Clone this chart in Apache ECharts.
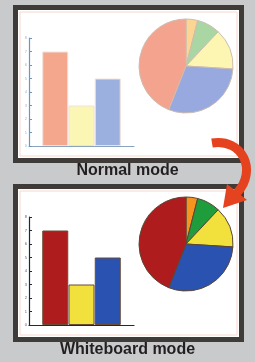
<!DOCTYPE html>
<html>
<head>
<meta charset="utf-8">
<style>
  html, body { margin: 0; padding: 0; background: #c8cacb; }
  #chart { width: 255px; height: 362px; }
</style>
<script src="https://cdn.jsdelivr.net/npm/echarts@6/dist/echarts.min.js"></script>
</head>
<body>
<div id="chart"></div>
<script>
// data
const categories = ["A", "B", "C"];
const barValues = [7, 3, 5];
const yMin = 0;
const yMax = 8;
const pieNames = ["Orange", "Green", "Yellow", "Blue", "Red"];
const pieValues = [4, 8, 14, 30, 44];
const panelTitles = ["Normal mode", "Whiteboard mode"];

// colours per mode
const normalBarColors = ["#f5a78e", "#fbf6b4", "#9cb0e0"];
const normalPieColors = ["#fbd591", "#a9d6a2", "#fdf6b3", "#97a9de", "#f4a48e"];
const boardBarColors = ["#ae1c1e", "#f2e13c", "#2a52b0"];
const boardPieColors = ["#f7941f", "#1f9c3c", "#f2e13c", "#2a52b0", "#ae1c1e"];

const chart = echarts.init(document.getElementById("chart"));

function frame(y) {
  return [
    { type: "rect", z: -10, shape: { x: 13, y: y, width: 231, height: 158 }, style: { fill: "#3f3b39" } },
    { type: "rect", z: -9, shape: { x: 18, y: y + 5, width: 221, height: 148 }, style: { fill: "#ffffff" } },
    { type: "rect", z: -8, shape: { x: 20, y: y + 7, width: 217, height: 144 }, style: { fill: null, stroke: "#f7d8ce", lineWidth: 1 } },
  ];
}

function yAxis(gridIndex, lineColor, labelColor) {
  return {
    type: "value",
    gridIndex,
    min: yMin,
    max: yMax,
    interval: 1,
    axisLine: { show: true, lineStyle: { color: lineColor, width: 1.2 } },
    axisTick: { show: true, inside: true, length: 3, lineStyle: { color: lineColor } },
    axisLabel: { fontSize: 4, color: labelColor, margin: 2 },
    splitLine: { show: false },
  };
}

function xAxis(gridIndex, lineColor) {
  return {
    type: "category",
    gridIndex,
    data: categories,
    boundaryGap: false,
    min: -1,
    max: 3,
    axisLine: { show: true, lineStyle: { color: lineColor, width: 1.2 } },
    axisTick: { show: false },
    axisLabel: { show: false },
  };
}

chart.setOption({
  backgroundColor: "#c8cacb",
  animation: false,
  grid: [
    { left: 29, top: 38, width: 105, height: 108 },
    { left: 29, top: 217, width: 105, height: 108 },
  ],
  xAxis: [xAxis(0, "#8aa3c0"), xAxis(1, "#1e2836")],
  yAxis: [yAxis(0, "#6b96c2", "#9fb4cc"), yAxis(1, "#1e2836", "#55606c")],
  series: [
    {
      type: "bar",
      xAxisIndex: 0,
      yAxisIndex: 0,
      barWidth: 26,
      data: barValues.map((v, i) => ({
        value: v,
        itemStyle: { color: normalBarColors[i], borderColor: "#f0e2da", borderWidth: 1 },
      })),
    },
    {
      type: "bar",
      xAxisIndex: 1,
      yAxisIndex: 1,
      barWidth: 26,
      data: barValues.map((v, i) => ({
        value: v,
        itemStyle: { color: boardBarColors[i], borderColor: "#6a4b36", borderWidth: 1 },
      })),
    },
    {
      type: "pie",
      center: [186, 66],
      radius: 47,
      startAngle: 90,
      clockwise: true,
      label: { show: false },
      labelLine: { show: false },
      itemStyle: { borderColor: "#cdbdb0", borderWidth: 1 },
      data: pieNames.map((n, i) => ({ name: n, value: pieValues[i], itemStyle: { color: normalPieColors[i] } })),
    },
    {
      type: "pie",
      center: [186, 244],
      radius: 47,
      startAngle: 90,
      clockwise: true,
      label: { show: false },
      labelLine: { show: false },
      itemStyle: { borderColor: "#5a4636", borderWidth: 1 },
      data: pieNames.map((n, i) => ({ name: n, value: pieValues[i], itemStyle: { color: boardPieColors[i] } })),
    },
  ],
  graphic: [
    ...frame(5),
    ...frame(184),
    {
      type: "text",
      left: "center",
      top: 163,
      style: { text: panelTitles[0], font: "bold 16px 'Liberation Sans', Arial", fill: "#231f20" },
    },
    {
      type: "text",
      left: "center",
      top: 342,
      style: { text: panelTitles[1], font: "bold 16px 'Liberation Sans', Arial", fill: "#231f20" },
    },
    // red curved arrow between the panels
    {
      type: "bezierCurve",
      z: 100,
      shape: { x1: 212, y1: 143, cpx1: 242, cpy1: 138, cpx2: 258, cpy2: 170, x2: 237, y2: 193 },
      style: { stroke: "#e5421f", lineWidth: 9, fill: null, lineCap: "butt" },
    },
    {
      type: "polygon",
      z: 100,
      shape: { points: [[227, 184], [247, 200], [223, 208]] },
      style: { fill: "#e5421f" },
    },
  ],
});
</script>
</body>
</html>
